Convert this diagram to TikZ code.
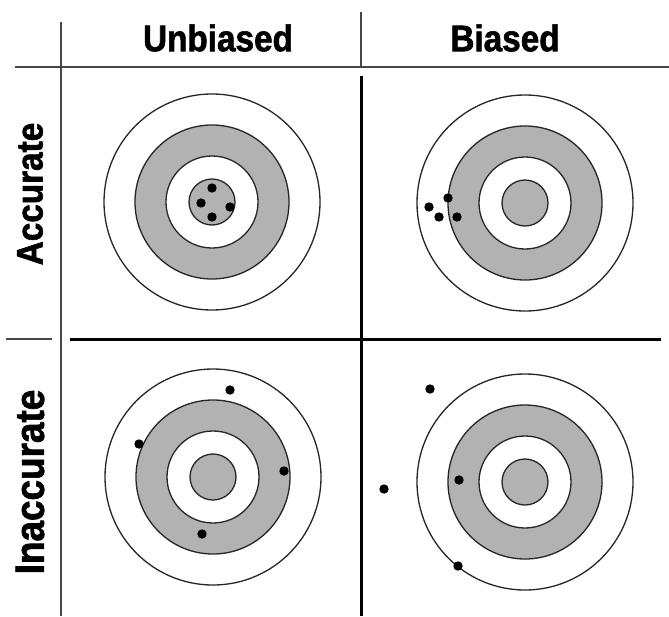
\documentclass[tikz,border=0pt]{standalone}
\usepackage{fontspec}
\setmainfont{Liberation Sans}[BoldFeatures={FakeBold=1.6,FakeStretch=0.9}]
\usetikzlibrary{positioning}
\definecolor{ringgray}{RGB}{178,178,178}
\definecolor{linegray}{RGB}{70,70,70}

\begin{document}
\begin{tikzpicture}[x=1pt, y=-1pt,
  every node/.style={font=\fontsize{37}{39}\selectfont\bfseries, inner sep=0pt},
  grid/.style={draw=linegray, line width=2pt},
  split/.style={draw=black, line width=3pt},
  ring/.style={draw=black!85, line width=1.3pt},
  shot/.style={fill=black}
]
  \useasboundingbox (0,0) rectangle (669,616);

  % column and row headings
  \node (unb) at (218,38) {Unbiased};
  \node (bia) at (505,38) {Biased};
  \node[rotate=90] (acc) at (30,194) {Accurate};
  \node[rotate=90] (inacc) at (30,482) {\fontsize{41}{43}\selectfont Inaccurate};

  % grid
  \draw[grid] (15,67) -- (669,67);
  \draw[grid] (61,22) -- (61,616);
  \draw[grid] (361,12) -- (361,67);
  \draw[grid] (6,339) -- (52,339);
  \draw[split] (361,76) -- (361,616);
  \draw[split] (70,339) -- (661,339);

  % targets
  \foreach \name/\cx/\cy in {ua/212/202, ba/525/203, ui/213/477, bi/525/482} {
    \coordinate (\name) at (\cx,\cy);
    \draw[ring, fill=white] (\name) circle (108pt);
    \draw[ring, fill=ringgray] (\name) circle (77pt);
    \draw[ring, fill=white] (\name) circle (46pt);
    \draw[ring, fill=ringgray] (\name) circle (23pt);
  }

  % shots
  \foreach \sx/\sy in {212/188, 201/203, 212/217, 230/207,
                       448/198, 429/207, 439/217, 457/217,
                       230/390, 139/444, 284/471, 202/534,
                       430/389, 384/489, 459/480, 458/566}
    \fill[shot] (\sx,\sy) circle (4.7pt);
\end{tikzpicture}
\end{document}
